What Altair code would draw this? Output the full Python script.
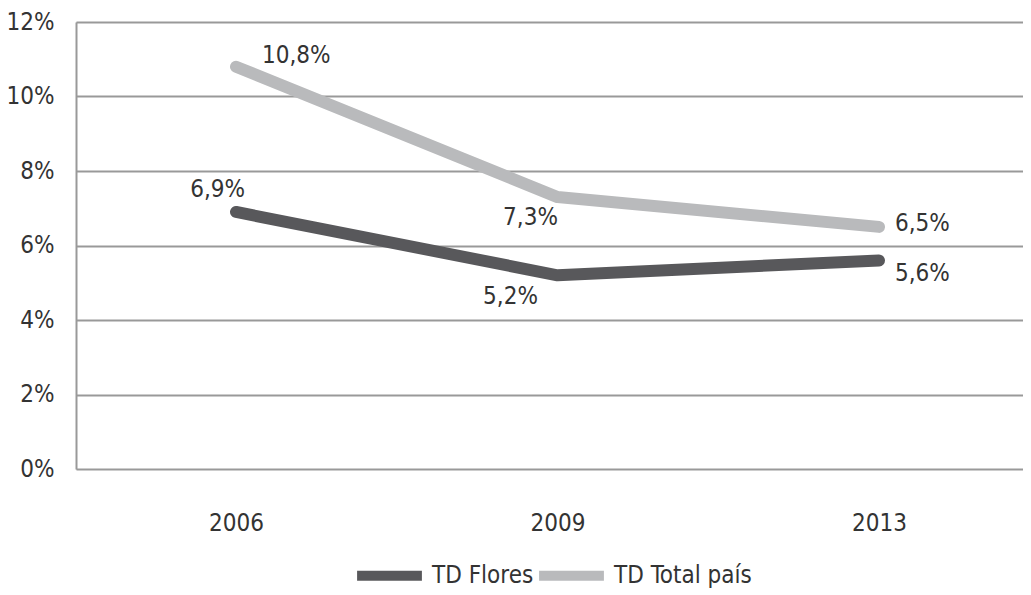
import altair as alt
import pandas as pd

years = ["2006", "2009", "2013"]
flores = [6.9, 5.2, 5.6]
total = [10.8, 7.3, 6.5]
series_names = ["TD Flores", "TD Total país"]
flores_labels = ["6,9%", "5,2%", "5,6%"]
total_labels = ["10,8%", "7,3%", "6,5%"]
y_ticks = [0, 2, 4, 6, 8, 10, 12]

rows = []
for i, y in enumerate(years):
    rows.append({"idx": i, "year": y, "serie": series_names[0], "value": flores[i], "label": flores_labels[i]})
    rows.append({"idx": i, "year": y, "serie": series_names[1], "value": total[i], "label": total_labels[i]})
df = pd.DataFrame(rows)

FONT = "DejaVu Sans Condensed, Roboto Condensed, Roboto"
DARK = "#58585b"
LIGHT = "#b9babc"
TXT = "#333333"
FS = 24

year_expr = "[" + ",".join("'%s'" % y for y in years) + "][datum.value]"
x_scale = alt.Scale(domain=[-0.4977, 2.4479], nice=False, zero=False)

x_enc = alt.X("idx:Q", title=None, scale=x_scale,
              axis=alt.Axis(values=list(range(len(years))), labelExpr=year_expr,
                            ticks=False, domain=False, grid=False,
                            labelPadding=42, labelFontSize=FS, labelFont=FONT,
                            labelColor=TXT, labelFontWeight=300))
y_enc = alt.Y("value:Q", title=None,
              scale=alt.Scale(domain=[0, 12]),
              axis=alt.Axis(values=y_ticks,
                            labelExpr="datum.value + '%'",
                            ticks=False, domain=True, domainColor="#999999", domainWidth=2,
                            grid=True, gridColor="#999999", gridWidth=2,
                            labelPadding=22, labelFontSize=FS, labelFont=FONT,
                            labelColor=TXT, labelFontWeight=300))

lines = alt.Chart(df).mark_line(strokeWidth=12, strokeCap="round", strokeJoin="round").encode(
    x=x_enc, y=y_enc,
    color=alt.Color("serie:N", title=None,
                    scale=alt.Scale(domain=series_names, range=[DARK, LIGHT]),
                    legend=alt.Legend(orient="none", legendX=276, legendY=516,
                                      direction="horizontal", symbolType="stroke",
                                      symbolStrokeWidth=10, symbolSize=4200,
                                      labelFont=FONT, labelFontSize=FS, labelColor=TXT,
                                      labelFontWeight=300,
                                      columnPadding=-30, labelOffset=5, labelLimit=300)),
)

# label offsets (dx, dy, align) per point
offsets = {
    ("TD Flores", "2006"): (9, -22, "right"),
    ("TD Flores", "2009"): (-47, 22, "center"),
    ("TD Flores", "2013"): (16, 14, "left"),
    ("TD Total país", "2006"): (26, -11, "left"),
    ("TD Total país", "2009"): (-27, 21, "center"),
    ("TD Total país", "2013"): (16, -3, "left"),
}

layers = [lines]
for (serie, year), (dx, dy, align) in offsets.items():
    layers.append(
        alt.Chart(df).transform_filter(
            (alt.datum.serie == serie) & (alt.datum.year == year)
        ).mark_text(dx=dx, dy=dy, align=align, baseline="middle",
                    font=FONT, fontSize=FS, fontWeight=300, color=TXT).encode(
            x=alt.X("idx:Q", scale=x_scale),
            y=alt.Y("value:Q"),
            text="label:N",
        )
    )

chart = alt.layer(*layers).properties(
    width=947, height=447,
    autosize=alt.AutoSizeParams(type="none"),
    padding={"left": 68, "top": 14, "right": 0, "bottom": 126},
).configure_view(stroke=None).configure(background="white")

chart.save("out.html", embed_options={"renderer": "svg", "actions": False})
